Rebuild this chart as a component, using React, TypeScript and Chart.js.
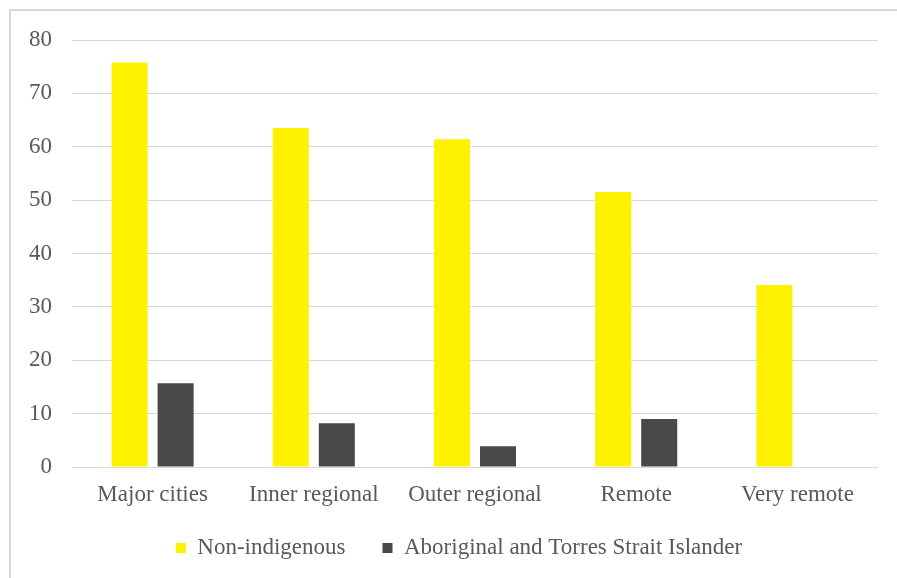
import React, { useEffect, useRef } from "react";
import { Chart, registerables } from "chart.js";

Chart.register(...registerables);

const categories = ["Major cities", "Inner regional", "Outer regional", "Remote", "Very remote"];
const nonIndigenous = [75.8, 63.5, 61.4, 51.5, 34.1];
const aboriginal = [15.7, 8.2, 3.9, 9.0, null];
const seriesNames = ["Non-indigenous", "Aboriginal and Torres Strait Islander"];
const yMin = 0;
const yMax = 80;
const yStep = 10;

const FONT = "'Liberation Serif', 'Times New Roman', serif";
const TEXT = "#595959";
const GRID = "#d9d9d9";

const legendShift = {
  id: "legendShift",
  afterLayout(chart: any) {
    const l = chart.legend;
    if (!l) return;
    l.top -= 12.5;
    l.bottom -= 12.5;
    l.left += 10;
    l.right += 10;
  },
};

export default function App() {
  const ref = useRef<HTMLCanvasElement>(null);
  useEffect(() => {
    if (!ref.current) return;
    const chart = new Chart(ref.current, {
      type: "bar",
      data: {
        labels: categories,
        datasets: [
          {
            label: seriesNames[0],
            data: nonIndigenous,
            backgroundColor: "#fff200",
            categoryPercentage: 0.571,
            barPercentage: 0.783,
          },
          {
            label: seriesNames[1],
            data: aboriginal as any,
            backgroundColor: "#494949",
            categoryPercentage: 0.571,
            barPercentage: 0.783,
          },
        ],
      },
      plugins: [legendShift],
      options: {
        animation: false,
        responsive: true,
        maintainAspectRatio: false,
        layout: { padding: { top: 29, right: 19, left: 9, bottom: 0 } },
        plugins: {
          tooltip: { enabled: false },
          legend: {
            position: "bottom",
            labels: {
              boxWidth: 10,
              boxHeight: 10,
              padding: 37,
              color: TEXT,
              font: { family: FONT, size: 23 },
            },
          },
        },
        scales: {
          x: {
            grid: { display: false, drawTicks: false },
            border: { display: false },
            ticks: { color: TEXT, font: { family: FONT, size: 23 }, padding: 14, maxRotation: 0 },
            afterFit: (s: any) => {
              s.height = 45;
            },
          },
          y: {
            min: yMin,
            max: yMax,
            ticks: { stepSize: yStep, color: TEXT, font: { family: FONT, size: 23 }, padding: 20 },
            grid: { color: GRID, lineWidth: 1, drawTicks: false },
            border: { display: false },
            afterFit: (s: any) => {
              s.width = 52;
              s.paddingTop = 5;
              s.paddingBottom = 5;
            },
          },
        },
      },
    });
    return () => chart.destroy();
  }, []);

  return (
    <div
      style={{
        position: "absolute",
        left: 9,
        top: 9,
        right: 0,
        bottom: 0,
        borderTop: "2px solid #d9d9d9",
        borderLeft: "2px solid #d9d9d9",
        overflow: "hidden",
        background: "#fff",
      }}
    >
      <div style={{ position: "relative", width: 886, height: 571 }}>
        <canvas ref={ref} />
      </div>
    </div>
  );
}
